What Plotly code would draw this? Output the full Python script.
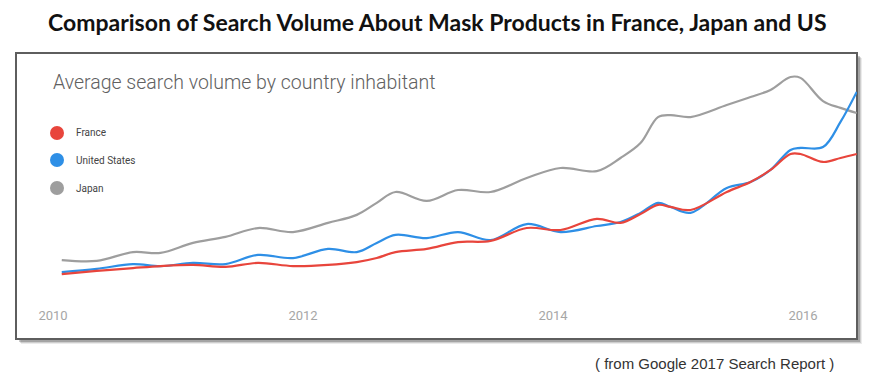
import plotly.graph_objects as go

# Decimal years of the sample points
years = [2010.07, 2010.35, 2010.64, 2010.86, 2011.12, 2011.38, 2011.64, 2011.92,
         2012.20, 2012.43, 2012.59, 2012.74, 2012.99, 2013.24, 2013.50, 2013.79,
         2014.06, 2014.35, 2014.54, 2014.70, 2014.84, 2014.94, 2015.10, 2015.39,
         2015.58, 2015.74, 2015.90, 2015.98, 2016.16, 2016.30, 2016.43]

japan = [27.6, 27.3, 30.4, 30.1, 33.6, 35.7, 38.8, 37.4, 40.6, 43.4, 47.6, 51.4,
         48.3, 52.1, 51.4, 56.3, 59.8, 58.7, 63.3, 68.5, 77.6, 78.3, 77.6, 81.8,
         84.6, 87.1, 91.6, 91.3, 83.2, 80.8, 79.0]

united_states = [23.4, 24.5, 26.2, 25.5, 26.6, 26.2, 29.4, 28.3, 31.5, 30.4, 33.6,
                 36.4, 35.3, 37.4, 34.6, 40.2, 37.4, 39.5, 40.9, 44.1, 47.6, 46.2,
                 44.1, 52.8, 54.9, 59.1, 66.1, 66.8, 67.1, 75.9, 86.4]

france = [22.7, 23.8, 24.8, 25.5, 25.9, 25.2, 26.6, 25.5, 25.9, 26.9, 28.3, 30.4,
          31.5, 33.9, 34.3, 38.8, 38.1, 42.0, 40.6, 43.7, 46.9, 46.2, 45.1, 51.4,
          54.9, 59.1, 64.7, 64.7, 61.9, 63.3, 64.7]

tick_years = [2010, 2012, 2014, 2016]
tick_labels = ["2010", "2012", "2014", "2016"]

series_names = ["France", "United States", "Japan"]
colors = {"France": "#e8453c", "United States": "#2e8fe6", "Japan": "#9e9e9e"}
values = {"France": france, "United States": united_states, "Japan": japan}

# page has an 8px body margin: figure is placed at (8, 8)
OFF = 8
W, H = 881 - OFF, 383 - OFF
L, T = 16 - OFF, 53 - OFF
R = W - (857 - OFF)
B = H - (306 - OFF)
pw, ph = W - L - R, H - T - B


def px_x(x):  # page pixel -> paper
    return (x - OFF - L) / pw


def px_y(y):
    return (H - B - (y - OFF)) / ph


fig = go.Figure()
for name in ["Japan", "United States", "France"]:
    fig.add_trace(go.Scatter(
        x=years, y=values[name], mode="lines", name=name,
        line=dict(color=colors[name], width=2.2, shape="spline", smoothing=1.0),
        showlegend=False, hoverinfo="skip"))

shapes = []
# soft shadow
for off, col in [(5, "rgba(0,0,0,0.08)"), (4, "rgba(0,0,0,0.12)"), (3, "rgba(0,0,0,0.20)")]:
    shapes.append(dict(type="rect", xref="paper", yref="paper",
                       x0=off / pw, x1=1 + off / pw,
                       y0=px_y(339) - off / ph, y1=1 - off / ph,
                       line=dict(width=0), fillcolor=col, layer="below"))
shapes.append(dict(type="rect", xref="paper", yref="paper",
                   x0=0, x1=1, y0=px_y(339), y1=1,
                   line=dict(color="#5e5e5e", width=2), fillcolor="white", layer="below"))

legend_rows = [133, 160, 188]
annotations = []
for name, yc in zip(series_names, legend_rows):
    shapes.append(dict(type="circle", xref="paper", yref="paper",
                       xsizemode="pixel", ysizemode="pixel", xanchor=0, yanchor=1,
                       x0=57 - 16 - 7, x1=57 - 16 + 7,
                       y0=-(yc - 53) - 7, y1=-(yc - 53) + 7,
                       line=dict(width=0), fillcolor=colors[name]))
    annotations.append(dict(xref="paper", yref="paper", x=px_x(74), y=px_y(yc),
                            xanchor="left", yanchor="middle", showarrow=False,
                            text=name, font=dict(family="Roboto, Arial", size=10, color="#444444")))

annotations.append(dict(xref="paper", yref="paper", x=px_x(437), y=px_y(22),
                        xanchor="center", yanchor="middle", showarrow=False,
                        text="<b>Comparison of Search Volume About Mask Products in France, Japan and US</b>",
                        font=dict(family="Lato, Liberation Sans", size=23, color="#111111")))
annotations.append(dict(xref="paper", yref="paper", x=px_x(51), y=px_y(82),
                        xanchor="left", yanchor="middle", showarrow=False,
                        text="Average search volume by country inhabitant",
                        font=dict(family="Roboto", size=19.5, color="#616161", weight=300)))
annotations.append(dict(xref="paper", yref="paper", x=px_x(714), y=px_y(363),
                        xanchor="center", yanchor="middle", showarrow=False,
                        text="( from Google 2017 Search Report )",
                        font=dict(family="Liberation Sans, Arial", size=15, color="#333333")))

fig.update_layout(
    width=W, height=H,
    margin=dict(l=L, r=R, t=T, b=B, pad=0),
    paper_bgcolor="white", plot_bgcolor="rgba(0,0,0,0)",
    shapes=shapes, annotations=annotations, showlegend=False,
    xaxis=dict(range=[2009.704, 2016.432], tickvals=tick_years, ticktext=tick_labels,
               showgrid=False, zeroline=False, showline=False, ticks="",
               tickfont=dict(family="Roboto", size=13, color="#a6a6a6")),
    yaxis=dict(range=[(339 - 306) / 2.86, 100], visible=False, showgrid=False, zeroline=False),
)

fig.write_html("out.html")
